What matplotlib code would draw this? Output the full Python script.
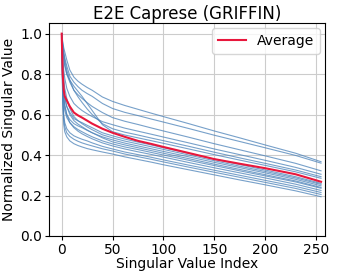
import numpy as np
import matplotlib
matplotlib.use("Agg")
import matplotlib.pyplot as plt

idx = [0, 1, 2, 3, 5, 8, 12, 16, 20, 25, 30, 40, 50, 62, 75, 88, 100, 125, 150, 175, 200, 230, 255]

# normalized singular values, one curve per layer
c1 = [1.0, 0.96, 0.93, 0.91, 0.87, 0.82, 0.785, 0.765, 0.75, 0.734, 0.72, 0.687, 0.665, 0.645, 0.626, 0.607, 0.59, 0.555, 0.519, 0.485, 0.45, 0.409, 0.367]
c2 = [1.0, 0.95, 0.91, 0.88, 0.84, 0.79, 0.76, 0.738, 0.72, 0.704, 0.69, 0.655, 0.63, 0.611, 0.595, 0.578, 0.563, 0.531, 0.498, 0.467, 0.436, 0.398, 0.36]
c3 = [1.0, 0.92, 0.87, 0.84, 0.80, 0.76, 0.72, 0.698, 0.68, 0.659, 0.64, 0.61, 0.585, 0.567, 0.551, 0.534, 0.519, 0.488, 0.456, 0.426, 0.396, 0.359, 0.322]
c4 = [1.0, 0.88, 0.82, 0.78, 0.73, 0.69, 0.655, 0.636, 0.62, 0.604, 0.59, 0.565, 0.55, 0.533, 0.518, 0.503, 0.489, 0.46, 0.43, 0.402, 0.374, 0.339, 0.305]
c5 = [1.0, 0.94, 0.90, 0.87, 0.82, 0.77, 0.72, 0.688, 0.66, 0.628, 0.60, 0.555, 0.53, 0.513, 0.499, 0.484, 0.471, 0.443, 0.414, 0.386, 0.359, 0.326, 0.293]
c6 = [1.0, 0.93, 0.89, 0.85, 0.80, 0.77, 0.74, 0.715, 0.69, 0.655, 0.62, 0.55, 0.515, 0.499, 0.485, 0.471, 0.458, 0.43, 0.402, 0.375, 0.349, 0.317, 0.285]
c7 = [1.0, 0.80, 0.72, 0.68, 0.64, 0.61, 0.58, 0.569, 0.56, 0.547, 0.535, 0.51, 0.495, 0.479, 0.464, 0.45, 0.436, 0.408, 0.38, 0.353, 0.326, 0.293, 0.26]
c8 = [1.0, 0.85, 0.78, 0.73, 0.68, 0.63, 0.59, 0.57, 0.555, 0.539, 0.525, 0.50, 0.485, 0.469, 0.455, 0.441, 0.428, 0.40, 0.372, 0.345, 0.319, 0.287, 0.255]
c9 = [1.0, 0.76, 0.68, 0.64, 0.60, 0.575, 0.555, 0.544, 0.535, 0.522, 0.51, 0.49, 0.475, 0.459, 0.445, 0.431, 0.418, 0.391, 0.364, 0.338, 0.312, 0.28, 0.248]
c10 = [1.0, 0.82, 0.74, 0.69, 0.64, 0.60, 0.57, 0.553, 0.54, 0.524, 0.51, 0.485, 0.465, 0.45, 0.436, 0.422, 0.409, 0.382, 0.355, 0.329, 0.303, 0.272, 0.24]
c11 = [1.0, 0.74, 0.66, 0.62, 0.585, 0.56, 0.54, 0.526, 0.515, 0.502, 0.49, 0.47, 0.455, 0.44, 0.427, 0.413, 0.40, 0.374, 0.348, 0.322, 0.297, 0.267, 0.236]
c12 = [1.0, 0.78, 0.70, 0.65, 0.60, 0.56, 0.535, 0.518, 0.505, 0.492, 0.48, 0.46, 0.445, 0.43, 0.416, 0.403, 0.39, 0.363, 0.337, 0.312, 0.287, 0.256, 0.225]
c13 = [1.0, 0.70, 0.60, 0.56, 0.53, 0.51, 0.495, 0.486, 0.478, 0.47, 0.46, 0.443, 0.43, 0.415, 0.402, 0.389, 0.376, 0.35, 0.325, 0.30, 0.275, 0.245, 0.215]
c14 = [1.0, 0.68, 0.58, 0.54, 0.51, 0.492, 0.478, 0.468, 0.46, 0.452, 0.445, 0.431, 0.42, 0.405, 0.392, 0.379, 0.366, 0.34, 0.315, 0.29, 0.265, 0.235, 0.205]
c15 = [1.0, 0.66, 0.55, 0.515, 0.49, 0.47, 0.456, 0.447, 0.44, 0.432, 0.426, 0.415, 0.405, 0.391, 0.378, 0.365, 0.352, 0.327, 0.302, 0.277, 0.253, 0.223, 0.194]
curves = [c1, c2, c3, c4, c5, c6, c7, c8, c9, c10, c11, c12, c13, c14, c15]

average = [1.0, 0.80, 0.72, 0.69, 0.67, 0.64, 0.61, 0.596, 0.585, 0.57, 0.555, 0.53, 0.51, 0.49, 0.47, 0.455, 0.44, 0.41, 0.38, 0.357, 0.335, 0.305, 0.268]

fig = plt.figure(figsize=(3.39, 2.76), dpi=100)
ax = fig.add_axes([0.1445, 0.145, 0.8145, 0.772])

for c in curves:
    ax.plot(idx, c, color='#4a81b8', alpha=0.75, lw=0.8)
ax.plot(idx, average, color='#e8173c', lw=1.5, label='Average')

ax.set_xlim(-12.5, 259)
ax.set_ylim(0, 1.053)
ax.set_xticks([0, 50, 100, 150, 200, 250])
ax.set_yticks([0.0, 0.2, 0.4, 0.6, 0.8, 1.0])
ax.tick_params(labelsize=10, length=3, pad=2)
ax.grid(True, color='#cccccc', lw=0.8)
ax.set_axisbelow(True)
ax.set_xlabel('Singular Value Index', fontsize=10, labelpad=0)
ax.set_ylabel('Normalized Singular Value', fontsize=10, labelpad=3)
ax.set_title('E2E Caprese (GRIFFIN)', fontsize=12, pad=3)
ax.legend(loc='upper right', fontsize=10, borderaxespad=0.4)

fig.savefig('out.png', dpi=100)
